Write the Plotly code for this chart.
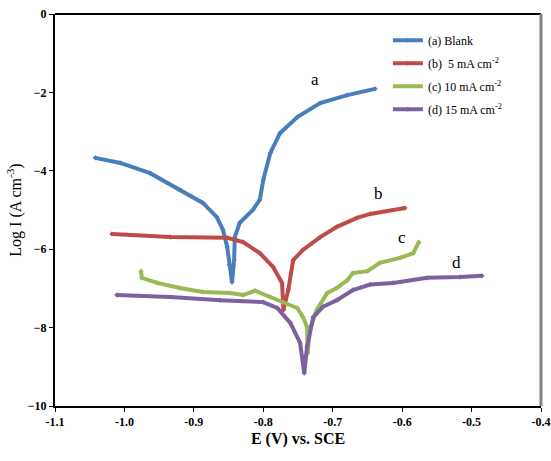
import plotly.graph_objects as go

# Tafel polarization curves: potential E (V vs. SCE) and log current density
blank_e = [-1.042, -1.006, -0.963, -0.920, -0.887, -0.867, -0.858, -0.852, -0.849, -0.845,
           -0.842, -0.841, -0.834, -0.815, -0.805, -0.800, -0.790, -0.776, -0.751, -0.718,
           -0.679, -0.639]
blank_logi = [-3.67, -3.80, -4.06, -4.49, -4.82, -5.18, -5.51, -5.94, -6.40, -6.84,
              -6.28, -5.69, -5.33, -5.00, -4.74, -4.23, -3.55, -3.04, -2.63, -2.27,
              -2.07, -1.91]

ma5_e = [-1.018, -0.934, -0.852, -0.829, -0.805, -0.786, -0.773, -0.772, -0.771,
         -0.764, -0.757, -0.743, -0.718, -0.694, -0.665, -0.646, -0.596]
ma5_logi = [-5.61, -5.69, -5.71, -5.82, -6.10, -6.45, -6.86, -7.30, -7.55,
            -7.04, -6.28, -6.02, -5.69, -5.43, -5.20, -5.10, -4.95]

ma10_e = [-0.976, -0.975, -0.953, -0.920, -0.887, -0.848, -0.829, -0.812, -0.790, -0.772,
          -0.751, -0.743, -0.737, -0.736, -0.733, -0.723, -0.708, -0.694, -0.679, -0.671,
          -0.650, -0.632, -0.603, -0.584, -0.576]
ma10_logi = [-6.56, -6.73, -6.86, -6.99, -7.09, -7.12, -7.17, -7.06, -7.22, -7.35,
             -7.50, -7.73, -7.98, -8.65, -8.06, -7.55, -7.12, -6.99, -6.79, -6.61,
             -6.56, -6.35, -6.22, -6.10, -5.82]

ma15_e = [-1.011, -0.934, -0.862, -0.800, -0.780, -0.761, -0.747, -0.741, -0.737, -0.728,
          -0.714, -0.694, -0.671, -0.646, -0.613, -0.564, -0.517, -0.485]
ma15_logi = [-7.17, -7.22, -7.30, -7.35, -7.50, -7.88, -8.39, -9.16, -8.49, -7.73,
             -7.47, -7.30, -7.04, -6.90, -6.86, -6.73, -6.71, -6.68]

series = [
    ("(a) Blank", blank_e, blank_logi, "#4a7ebb"),
    ("(b)  5 mA cm<sup>-2</sup>", ma5_e, ma5_logi, "#be4b48"),
    ("(c) 10 mA cm<sup>-2</sup>", ma10_e, ma10_logi, "#98b954"),
    ("(d) 15 mA cm<sup>-2</sup>", ma15_e, ma15_logi, "#7d60a0"),
]

curve_labels = ["a", "b", "c", "d"]
label_e = [-0.726, -0.634, -0.600, -0.521]
label_logi = [-1.68, -4.57, -5.71, -6.33]

x_ticks = [-1.1, -1.0, -0.9, -0.8, -0.7, -0.6, -0.5, -0.4]
y_ticks = [-10, -8, -6, -4, -2, 0]

fig = go.Figure()
for i, (name, xs, ys, color) in enumerate(series):
    fig.add_trace(go.Scatter(
        x=xs, y=ys, name=name, mode="lines+markers", legendgroup=f"g{i}",
        line=dict(color=color, width=4),
        marker=dict(color=color, size=4, symbol="diamond"),
    ))

for lab, xv, yv in zip(curve_labels, label_e, label_logi):
    fig.add_annotation(x=xv, y=yv, text=lab, showarrow=False,
                       font=dict(family="Liberation Serif", size=17, color="black"))

serif = "Liberation Serif"
fig.update_layout(
    width=551, height=461,
    margin=dict(l=55, r=10, t=14, b=55),
    paper_bgcolor="white", plot_bgcolor="white",
    showlegend=True,
    legend=dict(x=0.685, y=0.97, xanchor="left", yanchor="top",
                bgcolor="rgba(0,0,0,0)", font=dict(family=serif, size=12, color="black"),
                tracegroupgap=4, itemwidth=30),
    xaxis=dict(range=[-1.1, -0.4], tickvals=x_ticks, ticktext=[f"{v:.1f}" for v in x_ticks],
               automargin=False,
               showgrid=False, zeroline=False, showline=True, linecolor="black", linewidth=2,
               ticks="outside", ticklen=4, tickcolor="black",
               tickfont=dict(family=serif, size=12, color="black", weight="bold"),
               title=dict(text="<b>E (V) vs. SCE</b>", font=dict(family=serif, size=16, color="black"),
                          standoff=4)),
    yaxis=dict(range=[-10, 0], tickvals=y_ticks, automargin=False,
               showgrid=False, zeroline=False, showline=True, linecolor="black", linewidth=2,
               ticks="outside", ticklen=4, tickcolor="black",
               tickfont=dict(family=serif, size=12, color="black", weight="bold"),
               title=dict(text="Log I (A cm<sup>-3</sup>)", font=dict(family=serif, size=16, color="black"),
                          standoff=2)),
)

# frame: black top edge, grey right edge
fig.add_shape(type="line", xref="paper", yref="paper", x0=0, x1=1, y0=1, y1=1,
              line=dict(color="black", width=2))
fig.add_shape(type="line", xref="paper", yref="paper", x0=1, x1=1, y0=0, y1=1,
              line=dict(color="#808080", width=3))

fig.write_html("out.html")
